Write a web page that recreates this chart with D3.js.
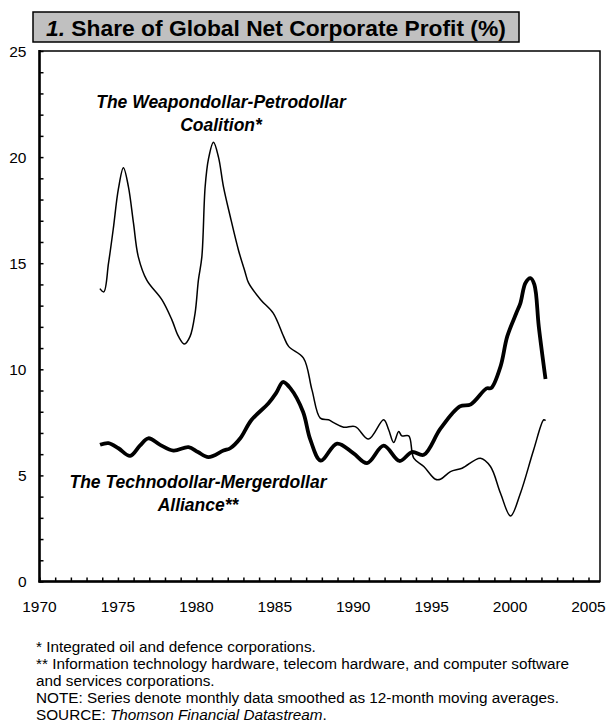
<!DOCTYPE html>
<html><head><meta charset="utf-8">
<script src="https://cdn.jsdelivr.net/npm/d3@7/dist/d3.min.js"></script>
<style>
html,body{margin:0;padding:0;background:#fff;}
text{font-family:"Liberation Sans",Arial,sans-serif;}
</style></head>
<body><svg id="c" width="608" height="725"></svg>
<script>
// ---- data ----
const weaponYears = [1973.85,1974.1,1974.4,1974.7,1975.03,1975.35,1975.67,1975.99,1976.3,1976.84,1977.8,1978.44,1978.86,1979.24,1979.6,1979.92,1980.13,1980.35,1980.56,1980.77,1981.09,1981.41,1981.73,1982.16,1982.69,1983.1,1983.33,1984.1,1984.9,1985.56,1985.88,1986.83,1987.37,1987.9,1988.43,1988.75,1989.39,1990.13,1990.98,1991.94,1992.26,1992.58,1992.9,1993.1,1993.54,1993.86,1994.5,1995.24,1995.56,1996.2,1996.94,1998.11,1998.75,1999.39,2000.03,2000.66,2001.5,2002.15,2002.26];
const weaponValues = [13.8,13.65,15.0,16.6,18.5,19.5,18.6,16.9,15.3,14.2,13.28,12.33,11.55,11.19,11.55,12.65,14.2,15.3,18.6,19.9,20.7,20.0,18.6,17.2,15.6,14.6,14.07,13.28,12.65,11.55,11.08,10.53,9.03,7.70,7.62,7.49,7.27,7.3,6.71,7.62,7.15,6.55,7.07,6.86,6.86,5.81,5.42,4.82,4.82,5.18,5.34,5.81,5.42,4.16,3.09,4.16,6.2,7.62,7.58];

const technoYears = [1973.86,1974.4,1975.03,1975.78,1976.4,1976.94,1977.69,1978.54,1979.5,1980.1,1980.77,1981.73,1982.16,1982.8,1983.5,1984.6,1985.1,1985.52,1986.0,1986.8,1987.26,1987.93,1988.97,1990.0,1990.88,1991.94,1992.95,1993.75,1994.5,1995.56,1996.8,1997.5,1998.5,1998.8,1999.39,1999.82,2000.4,2000.66,2000.98,2001.3,2001.55,2001.83,2002.26];
const technoValues = [6.44,6.52,6.28,5.92,6.4,6.75,6.44,6.17,6.33,6.1,5.86,6.17,6.28,6.75,7.6,8.4,8.9,9.4,9.1,8.0,6.7,5.7,6.5,6.05,5.58,6.4,5.68,6.1,5.97,7.2,8.25,8.35,9.1,9.12,10.13,11.55,12.65,13.12,14.07,14.3,13.99,12.02,9.54];

const xTickLabels = [1970,1975,1980,1985,1990,1995,2000,2005];
const yTickLabels = [0,5,10,15,20,25];
const titleNum = "1.";
const titleText = " Share of Global Net Corporate Profit (%)";
const weaponLabel = ["The Weapondollar-Petrodollar","Coalition*"];
const technoLabel = ["The Technodollar-Mergerdollar","Alliance**"];
const footnotes = [
  [{t:"* Integrated oil and defence corporations."}],
  [{t:"** Information technology hardware, telecom hardware, and computer software"}],
  [{t:"and services corporations."}],
  [{t:"NOTE: Series denote monthly data smoothed as 12-month moving averages."}],
  [{t:"SOURCE: "},{t:"Thomson Financial  Datastream",i:true},{t:"."}]
];

// ---- chart ----
const svg = d3.select("#c");
const pLeft = 39.5, pRight = 600, pTop = 51, pBottom = 581.5;
const x = d3.scaleLinear().domain([1970,2005]).range([pLeft,588.5]);
const y = d3.scaleLinear().domain([0,25]).range([pBottom,pTop]);

// title box
svg.append("rect").attr("x",33).attr("y",12).attr("width",486).attr("height",30)
  .attr("fill","#c0c0c0").attr("stroke","#000").attr("stroke-width",1.5);
const tt = svg.append("text").attr("x",46).attr("y",35.5)
  .attr("font-size",22.8).attr("font-weight","bold");
tt.append("tspan").attr("font-style","italic").text(titleNum);
tt.append("tspan").text(titleText);

// frame
svg.append("rect").attr("x",pLeft).attr("y",pTop).attr("width",pRight-pLeft).attr("height",pBottom-pTop)
  .attr("fill","none").attr("stroke","#000").attr("stroke-width",1.5);

// axes
const yAxis = d3.axisRight(y).tickValues(d3.range(0,26,1)).tickSize(4).tickFormat("");
const gy = svg.append("g").attr("transform",`translate(${pLeft},0)`).call(yAxis);
gy.select(".domain").remove();
gy.selectAll("line").attr("stroke","#000").attr("stroke-width",1.5);
svg.append("line").attr("x1",pLeft).attr("x2",pLeft).attr("y1",pTop-1).attr("y2",pBottom+1)
  .attr("stroke","#000").attr("stroke-width",2.5);

const xAxis = d3.axisTop(x).tickValues(d3.range(1970,2006,1)).tickSize(4).tickFormat("");
const gx = svg.append("g").attr("transform",`translate(0,${pBottom})`).call(xAxis);
gx.select(".domain").remove();
gx.selectAll("line").attr("stroke","#000").attr("stroke-width",1.5);
svg.append("line").attr("x1",pLeft-1).attr("x2",pRight).attr("y1",pBottom).attr("y2",pBottom)
  .attr("stroke","#000").attr("stroke-width",2.5);

// tick labels
svg.append("g").selectAll("text").data(yTickLabels).join("text")
  .attr("x",26.5).attr("y",d=>y(d)+5.5).attr("text-anchor","end").attr("font-size",15.5).text(d=>d);
svg.append("g").selectAll("text").data(xTickLabels).join("text")
  .attr("x",d=>x(d)).attr("y",611.5).attr("text-anchor","middle").attr("font-size",15.5).text(d=>d);

// lines
const line = d3.line().x(d=>x(d[0])).y(d=>y(d[1])).curve(d3.curveCatmullRom.alpha(0.5));
svg.append("path").datum(d3.zip(weaponYears,weaponValues)).attr("d",line)
  .attr("fill","none").attr("stroke","#000").attr("stroke-width",1.5).attr("stroke-linejoin","round");
svg.append("path").datum(d3.zip(technoYears,technoValues)).attr("d",line)
  .attr("fill","none").attr("stroke","#000").attr("stroke-width",3.8).attr("stroke-linejoin","round");

// annotations
svg.append("g").selectAll("text").data(weaponLabel).join("text")
  .attr("x",221).attr("y",(d,i)=>108+i*23).attr("text-anchor","middle")
  .attr("font-size",17.5).attr("font-weight","bold").attr("font-style","italic").text(d=>d);
svg.append("g").selectAll("text").data(technoLabel).join("text")
  .attr("x",198).attr("y",(d,i)=>488+i*23).attr("text-anchor","middle")
  .attr("font-size",17.5).attr("font-weight","bold").attr("font-style","italic").text(d=>d);

// footnotes
footnotes.forEach((ln,i)=>{
  const t = svg.append("text").attr("x",36).attr("y",651.5+i*17.2).attr("font-size",15.3);
  ln.forEach(s=>{ const sp=t.append("tspan").text(s.t); if(s.i) sp.attr("font-style","italic"); });
});
</script></body></html>
